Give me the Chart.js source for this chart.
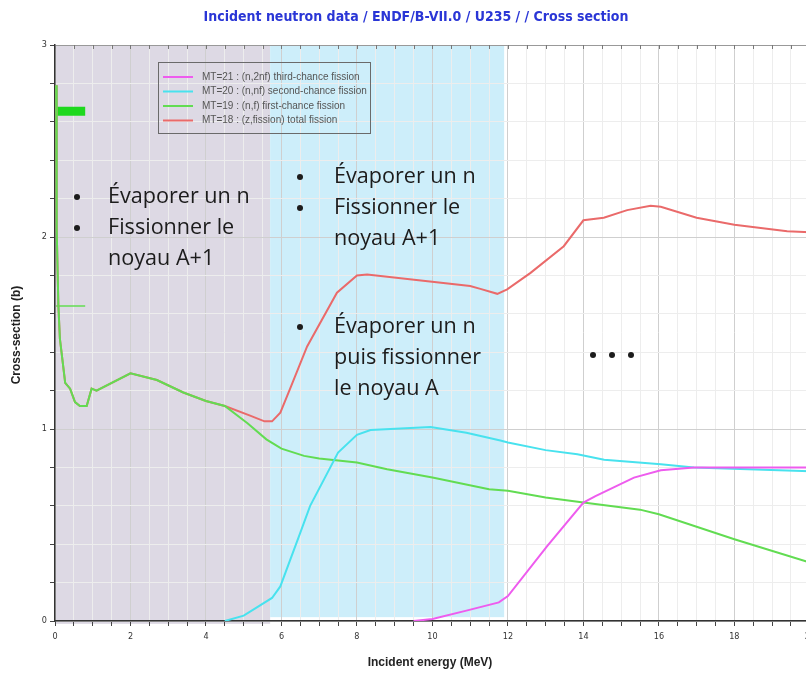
<!DOCTYPE html>
<html>
<head>
<meta charset="utf-8">
<script src="https://cdn.jsdelivr.net/npm/chart.js@4.4.1/dist/chart.umd.min.js"></script>
<style>
  html, body { margin: 0; padding: 0; background: #fff; overflow: hidden; }
  #wrap { width: 820px; height: 675px; }
</style>
</head>
<body>
<div id="wrap"><canvas id="chart"></canvas></div>
<script>
// Données (énergie en MeV, section efficace en b)
const e21 = [9.5, 10.0, 10.9, 11.76, 12.0, 13.04, 14.0, 14.32, 15.34, 16.05, 16.93, 20.0];
const s21 = [0.0, 0.01, 0.054, 0.097, 0.13, 0.39, 0.617, 0.65, 0.747, 0.785, 0.80, 0.80];

const e20 = [4.5, 5.0, 5.75, 5.97, 6.5, 6.76, 7.5, 8.0, 8.36, 9.95, 10.9, 11.8, 12.0, 13.0, 13.84, 14.55, 16.05, 16.93, 20.0];
const s20 = [0.0, 0.028, 0.12, 0.18, 0.46, 0.60, 0.877, 0.97, 0.995, 1.01, 0.98, 0.94, 0.93, 0.89, 0.868, 0.84, 0.816, 0.80, 0.78];

const e19 = [0.03, 0.045, 0.09, 0.13, 0.27, 0.4, 0.53, 0.66, 0.84, 0.97, 1.1, 2.0, 2.7, 3.4, 4.0, 4.5,
             5.1, 5.6, 6.0, 6.6, 7.0, 8.0, 8.8, 10.0, 11.5, 12.0, 13.0, 14.0, 15.5, 16.0, 18.0, 20.0];
const s19 = [2.79, 2.04, 1.64, 1.47, 1.24, 1.21, 1.14, 1.12, 1.12, 1.21, 1.20, 1.29, 1.255, 1.19, 1.146, 1.12,
             1.03, 0.946, 0.898, 0.86, 0.846, 0.825, 0.79, 0.747, 0.686, 0.678, 0.643, 0.617, 0.58, 0.556, 0.426, 0.305];

const e18 = [0.03, 0.045, 0.09, 0.13, 0.27, 0.4, 0.53, 0.66, 0.84, 0.97, 1.1, 2.0, 2.7, 3.4, 4.0, 4.5,
             5.17, 5.55, 5.75, 5.97, 6.23, 6.68, 7.47, 8.0, 8.27, 11.0, 11.27, 11.72, 11.98, 12.6, 13.48,
             14.0, 14.54, 15.16, 15.78, 16.05, 17.0, 18.0, 19.4, 20.0];
const s18 = [2.79, 2.04, 1.64, 1.47, 1.24, 1.21, 1.14, 1.12, 1.12, 1.21, 1.20, 1.29, 1.255, 1.19, 1.146, 1.12,
             1.07, 1.04, 1.04, 1.085, 1.21, 1.43, 1.71, 1.80, 1.805, 1.745, 1.73, 1.704, 1.727, 1.813, 1.952,
             2.087, 2.10, 2.14, 2.163, 2.157, 2.10, 2.064, 2.03, 2.025];

// petits traits verts près de E = 0
const eStub = [0.03, 0.8];
const sStubThick = [2.655, 2.655];
const sStubThin = [1.64, 1.64];

// zones colorées (MeV)
const zoneA = [0, 5.7];
const zoneB = [5.7, 11.9];

const labels = [
  'MT=21 : (n,2nf) third-chance fission',
  'MT=20 : (n,nf) second-chance fission',
  'MT=19 : (n,f) first-chance fission',
  'MT=18 : (z,fission) total fission'
];
const colors = ['#ee5cee', '#48e2ee', '#62dc52', '#ea6a6a'];

function pts(xs, ys) {
  return xs.map((x, i) => ({ x: x, y: ys[i] }));
}

function isMult(v, step) {
  const r = v / step;
  return Math.abs(r - Math.round(r)) < 1e-6;
}

// Fond : zones colorées
const zonesPlugin = {
  id: 'zones',
  beforeDraw(chart) {
    const { ctx, chartArea: a, scales: { x, y } } = chart;
    ctx.save();
    ctx.fillStyle = '#fff';
    ctx.fillRect(0, 0, chart.width, chart.height);
    const xa0 = x.getPixelForValue(zoneA[0]);
    const xa1 = x.getPixelForValue(zoneA[1]);
    const xb1 = x.getPixelForValue(zoneB[1]);
    ctx.fillStyle = '#ddd9e4';
    ctx.fillRect(xa0, a.top, xa1 - xa0, y.getPixelForValue(-0.015) - a.top);
    ctx.fillStyle = '#cdeefa';
    ctx.fillRect(xa1, a.top, xb1 - xa1, y.getPixelForValue(0.02) - a.top);
    ctx.restore();
  }
};

// Textes : titre, axes, légende, annotations
const textPlugin = {
  id: 'texts',
  afterDraw(chart) {
    const { ctx, chartArea: a, scales: { x, y } } = chart;
    ctx.save();

    // bord haut avec petites graduations
    ctx.strokeStyle = '#999';
    ctx.lineWidth = 1;
    ctx.beginPath();
    ctx.moveTo(a.left, a.top + 0.5);
    ctx.lineTo(a.right, a.top + 0.5);
    ctx.stroke();
    ctx.strokeStyle = '#777';
    x.ticks.forEach(t => {
      const px = Math.round(x.getPixelForValue(t.value)) + 0.5;
      ctx.beginPath();
      ctx.moveTo(px, a.top);
      ctx.lineTo(px, a.top + 4);
      ctx.stroke();
    });

    // titre
    ctx.fillStyle = '#2a36d6';
    ctx.font = 'bold 14px "Liberation Sans Narrow", "DejaVu Sans Condensed", sans-serif';
    ctx.textAlign = 'center';
    ctx.textBaseline = 'middle';
    ctx.fillText('Incident neutron data / ENDF/B-VII.0 / U235 / / Cross section', 416, 17);

    // titres des axes
    ctx.fillStyle = '#222';
    ctx.font = 'bold 12px "Liberation Sans", Arial, sans-serif';
    ctx.fillText('Incident energy (MeV)', 430, 663);
    ctx.save();
    ctx.translate(17, 335);
    ctx.rotate(-Math.PI / 2);
    ctx.fillText('Cross-section (b)', 0, 0);
    ctx.restore();

    // légende
    const lx = 158, ly = 62, lw = 212, lh = 71;
    ctx.strokeStyle = '#6a6a6a';
    ctx.lineWidth = 1;
    ctx.strokeRect(lx + 0.5, ly + 0.5, lw, lh);
    ctx.font = '10px "Liberation Sans", Arial, sans-serif';
    ctx.textAlign = 'left';
    labels.forEach((lab, i) => {
      const yy = ly + 15 + i * 14.5;
      ctx.strokeStyle = colors[i];
      ctx.lineWidth = 2;
      ctx.beginPath();
      ctx.moveTo(lx + 5, yy);
      ctx.lineTo(lx + 35, yy);
      ctx.stroke();
      ctx.fillStyle = '#555';
      ctx.fillText(lab, lx + 44, yy);
    });

    // annotations : taille de police ajustée pour que « Évaporer un n » fasse ~142 px
    ctx.font = '20px "Open Sans", Lato, sans-serif';
    const w20 = ctx.measureText('Évaporer un n').width;
    const fs = 20 * 142 / w20;
    ctx.font = fs.toFixed(1) + 'px "Open Sans", Lato, sans-serif';
    ctx.fillStyle = '#1c1c1c';
    const bullet = (bx, by) => {
      ctx.beginPath();
      ctx.arc(bx, by, 3, 0, Math.PI * 2);
      ctx.fill();
    };
    const block = (bx, tx, y0, lines, nBullets) => {
      lines.forEach((ln, i) => {
        const yy = y0 + i * 31;
        if (i < nBullets) bullet(bx, yy);
        ctx.fillText(ln, tx, yy);
      });
    };
    block(77, 108, 197, ['Évaporer un n', 'Fissionner le', 'noyau A+1'], 2);
    block(300, 334, 177, ['Évaporer un n', 'Fissionner le', 'noyau A+1'], 2);
    block(300, 334, 327, ['Évaporer un n', 'puis fissionner', 'le noyau A'], 1);
    bullet(593, 355);
    bullet(612, 355);
    bullet(631, 355);

    ctx.restore();
  }
};

const ds = (i, xs, ys) => ({
  label: labels[i],
  data: pts(xs, ys),
  borderColor: colors[i],
  borderWidth: 2,
  pointRadius: 0,
  tension: 0,
  fill: false
});

new Chart(document.getElementById('chart'), {
  type: 'line',
  data: {
    datasets: [
      ds(0, e21, s21),
      ds(1, e20, s20),
      ds(2, e19, s19),
      ds(3, e18, s18),
      { data: pts(eStub, sStubThick), borderColor: '#1ed81e', borderWidth: 9, pointRadius: 0, borderCapStyle: 'butt' },
      { data: pts(eStub, sStubThin), borderColor: '#62dc52', borderWidth: 1.5, pointRadius: 0 }
    ]
  },
  options: {
    animation: false,
    responsive: true,
    maintainAspectRatio: false,
    layout: { padding: { top: 45, right: 0, bottom: 0, left: 0 } },
    plugins: {
      legend: { display: false },
      tooltip: { enabled: false }
    },
    scales: {
      x: {
        type: 'linear',
        min: 0,
        max: 20,
        afterFit: s => { s.height = 54; },
        border: { display: true, color: '#333', width: 1.5 },
        grid: {
          color: c => isMult(c.tick.value, 2) ? '#cfcfcf' : '#ededed',
          tickColor: '#444',
          tickLength: 5
        },
        ticks: {
          stepSize: 0.5,
          autoSkip: false,
          maxRotation: 0,
          padding: 5,
          color: '#333',
          font: { size: 9, family: '"Liberation Sans Narrow", "DejaVu Sans Condensed", sans-serif' },
          callback: v => isMult(v, 2) ? String(Math.round(v)) : ''
        }
      },
      y: {
        type: 'linear',
        min: 0,
        max: 3,
        afterFit: s => { s.width = 55; },
        border: { display: true, color: '#333', width: 1.5 },
        grid: {
          color: c => isMult(c.tick.value, 1) ? '#cfcfcf' : '#ededed',
          tickColor: '#444',
          tickLength: 5
        },
        ticks: {
          stepSize: 0.2,
          autoSkip: false,
          padding: 3,
          color: '#333',
          font: { size: 9, family: '"Liberation Sans Narrow", "DejaVu Sans Condensed", sans-serif' },
          callback: v => isMult(v, 1) ? String(Math.round(v)) : ''
        }
      }
    }
  },
  plugins: [zonesPlugin, textPlugin]
});
</script>
</body>
</html>
